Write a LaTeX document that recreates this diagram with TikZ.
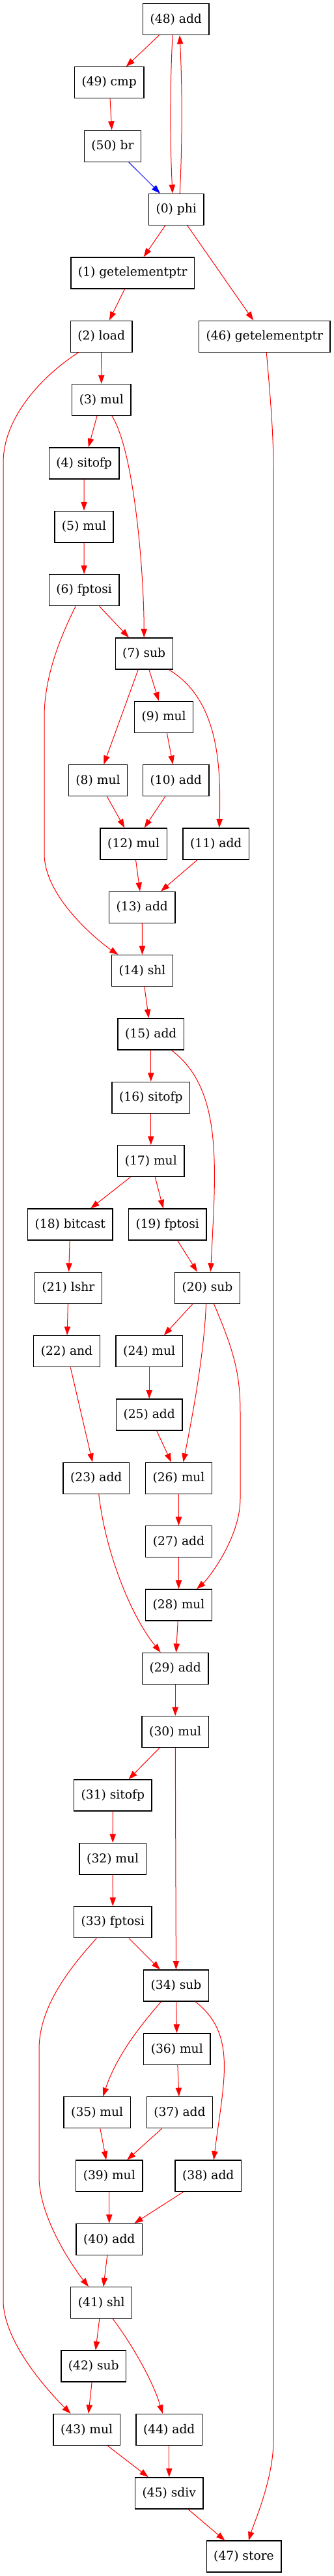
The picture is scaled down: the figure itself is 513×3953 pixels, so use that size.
\documentclass[tikz,border=0pt]{standalone}
\usepackage{fontspec}
\setmainfont{DejaVu Serif}
\usepackage{xcolor}
\usepackage{tikz}
\usetikzlibrary{calc,arrows.meta}
\definecolor{depred}{HTML}{FF0000}
\definecolor{ctlblue}{HTML}{0000FF}

\begin{document}
\begin{tikzpicture}[x=0.75pt, y=-0.75pt,
    op/.style={draw=black, line width=1pt, minimum height=36pt, inner xsep=8.3pt, font=\fontsize{14}{17}\selectfont},
    dep/.style={draw=depred, line width=0.75pt, -{Triangle[length=10pt,width=7pt]}},
    ctl/.style={dep, draw=ctlblue}]
  \useasboundingbox (0,0) rectangle (513,3953);

  % Loop head
  \node[op] (n48) at (270.3, 29.5) {(48) add};
  \node[op] (n49) at (167.7, 126.8) {(49) cmp};
  \node[op] (n50) at (173.0, 224.2) {(50) br};
  \node[op] (n0) at (270.7, 321.5) {(0) phi};
  \node[op] (n1) at (203.7, 418.9) {(1) getelementptr};
  \node[op] (n2) at (155.7, 516.2) {(2) load};
  \node[op] (n46) at (406.3, 516.2) {(46) getelementptr};

  % First block
  \node[op] (n3) at (155.8, 613.5) {(3) mul};
  \node[op] (n4) at (129.2, 710.9) {(4) sitofp};
  \node[op] (n5) at (129.0, 808.2) {(5) mul};
  \node[op] (n6) at (129.2, 905.6) {(6) fptosi};
  \node[op] (n7) at (221.2, 1002.9) {(7) sub};
  \node[op] (n9) at (251.7, 1100.2) {(9) mul};
  \node[op] (n8) at (150.5, 1197.6) {(8) mul};
  \node[op] (n10) at (270.3, 1197.6) {(10) add};
  \node[op] (n12) at (205.2, 1294.9) {(12) mul};
  \node[op] (n11) at (331.8, 1294.9) {(11) add};
  \node[op] (n13) at (218.3, 1392.3) {(13) add};
  \node[op] (n14) at (218.5, 1489.6) {(14) shl};

  % Second block
  \node[op] (n15) at (231.8, 1586.9) {(15) add};
  \node[op] (n16) at (231.8, 1684.3) {(16) sitofp};
  \node[op] (n17) at (231.8, 1781.6) {(17) mul};
  \node[op] (n18) at (107.8, 1879.0) {(18) bitcast};
  \node[op] (n19) at (257.2, 1879.0) {(19) fptosi};
  \node[op] (n21) at (105.0, 1976.3) {(21) lshr};
  \node[op] (n20) at (318.5, 1976.3) {(20) sub};
  \node[op] (n22) at (102.5, 2073.6) {(22) and};
  \node[op] (n24) at (229.2, 2073.6) {(24) mul};
  \node[op] (n25) at (229.2, 2171.0) {(25) add};
  \node[op] (n23) at (147.8, 2268.3) {(23) add};
  \node[op] (n26) at (274.5, 2268.3) {(26) mul};
  \node[op] (n27) at (274.5, 2365.7) {(27) add};
  \node[op] (n28) at (274.5, 2463.0) {(28) mul};
  \node[op] (n29) at (269.2, 2560.3) {(29) add};

  % Third block
  \node[op] (n30) at (269.2, 2657.7) {(30) mul};
  \node[op] (n31) at (173.3, 2755.0) {(31) sitofp};
  \node[op] (n32) at (173.2, 2852.4) {(32) mul};
  \node[op] (n33) at (173.3, 2949.7) {(33) fptosi};
  \node[op] (n34) at (270.5, 3047.0) {(34) sub};
  \node[op] (n36) at (271.8, 3144.4) {(36) mul};
  \node[op] (n35) at (149.2, 3241.7) {(35) mul};
  \node[op] (n37) at (276.0, 3241.7) {(37) add};
  \node[op] (n39) at (167.8, 3339.1) {(39) mul};
  \node[op] (n38) at (319.8, 3339.1) {(38) add};
  \node[op] (n40) at (167.8, 3436.4) {(40) add};
  \node[op] (n41) at (155.8, 3533.7) {(41) shl};
  \node[op] (n42) at (143.8, 3631.1) {(42) sub};
  \node[op] (n43) at (133.2, 3728.4) {(43) mul};
  \node[op] (n44) at (259.8, 3728.4) {(44) add};
  \node[op] (n45) at (259.8, 3825.8) {(45) sdiv};
  \node[op] (n47) at (374.5, 3923.1) {(47) store};

  % Bends of the long edges
  \coordinate (w2a) at (5, 710);
  \coordinate (w2b) at (5, 3530);
  \coordinate (w46a) at (420, 720);
  \coordinate (w46b) at (420, 3745);
  \coordinate (w6a) at (68, 1100);
  \coordinate (w6b) at (68, 1310);
  \coordinate (w20a) at (369, 2167);
  \coordinate (w20b) at (369, 2300);
  \coordinate (w33a) at (60, 3145);
  \coordinate (w33b) at (60, 3340);

  % Straight data edges
  \foreach \a/\b in {n48/n49, n49/n50, n0/n1, n0/n46, n1/n2, n2/n3, n3/n4, n4/n5, n5/n6, n6/n7,
      n7/n9, n7/n8, n9/n10, n8/n12, n10/n12, n12/n13, n11/n13, n13/n14, n14/n15, n15/n16,
      n16/n17, n17/n18, n17/n19, n18/n21, n19/n20, n21/n22, n20/n24, n24/n25, n25/n26,
      n22/n23, n26/n27, n27/n28, n28/n29, n29/n30, n30/n31, n30/n34, n31/n32, n32/n33,
      n33/n34, n34/n36, n36/n37, n35/n39, n37/n39, n39/n40, n38/n40, n40/n41, n41/n42,
      n42/n43, n43/n45, n44/n45, n45/n47} {
    \draw[dep] (\a) -- (\b);
  }

  % Branch back to the phi
  \draw[ctl] (n50) -- (n0);

  % Loop edges between add and phi
  \draw[dep] ($(n48.south)+(-5.3,0)$) .. controls +(-4,80) and +(-4,-80) .. ($(n0.north)+(-5.7,0)$);
  \draw[dep] ($(n0.north)+(5.5,0)$) .. controls +(4,-80) and +(4,80) .. ($(n48.south)+(5.7,0)$);

  % Long edges
  \draw[dep] ($(n2.south)+(-35,0)$) .. controls +(-55,35) and +(0,-70) .. (w2a) -- (w2b)
    .. controls +(0,70) and +(-45,-45) .. (n43);
  \draw[dep] ($(n46.south)+(3,0)$) .. controls +(5,60) and +(0,-60) .. (w46a) -- (w46b)
    .. controls +(0,60) and +(15,-50) .. (n47);
  \draw[dep] ($(n6.south)+(-13,0)$) .. controls +(-25,50) and +(0,-60) .. (w6a) -- (w6b)
    .. controls +(0,70) and +(-60,-40) .. (n14);
  \draw[dep] ($(n20.south)+(10,0)$) .. controls +(30,70) and +(0,-60) .. (w20a) -- (w20b)
    .. controls +(0,60) and +(45,-40) .. (n28);
  \draw[dep] ($(n33.south)+(-25,0)$) .. controls +(-50,55) and +(0,-60) .. (w33a) -- (w33b)
    .. controls +(0,65) and +(-40,-50) .. (n41);

  % Bent edges
  \draw[dep] ($(n3.south)+(16,0)$) .. controls +(35,55) and +(0,-120) .. (n7);
  \draw[dep] ($(n7.south)+(38,0)$) .. controls +(75,45) and +(3,-100) .. ($(n11.north)+(5,0)$);
  \draw[dep] ($(n15.south)+(31.5,0)$) .. controls +(80,60) and +(8,-160) .. ($(n20.north)+(5,0)$);
  \draw[dep] ($(n20.south)+(-2,0)$) .. controls +(-3,80) and +(12,-60) .. ($(n26.north)+(7,0)$);
  \draw[dep] ($(n23.south)+(4,0)$) .. controls +(10,90) and +(-45,-55) .. ($(n29.north)+(-22.5,0)$);
  \draw[dep] ($(n34.south)+(-23,0)$) .. controls +(-35,40) and +(20,-60) .. ($(n35.north)+(9,0)$);
  \draw[dep] ($(n34.south)+(29.5,0)$) .. controls +(65,50) and +(15,-120) .. ($(n38.north)+(8.5,0)$);
  \draw[dep] ($(n41.south)+(17.5,0)$) .. controls +(30,40) and +(-15,-50) .. ($(n44.north)+(-10,0)$);
\end{tikzpicture}
\end{document}
